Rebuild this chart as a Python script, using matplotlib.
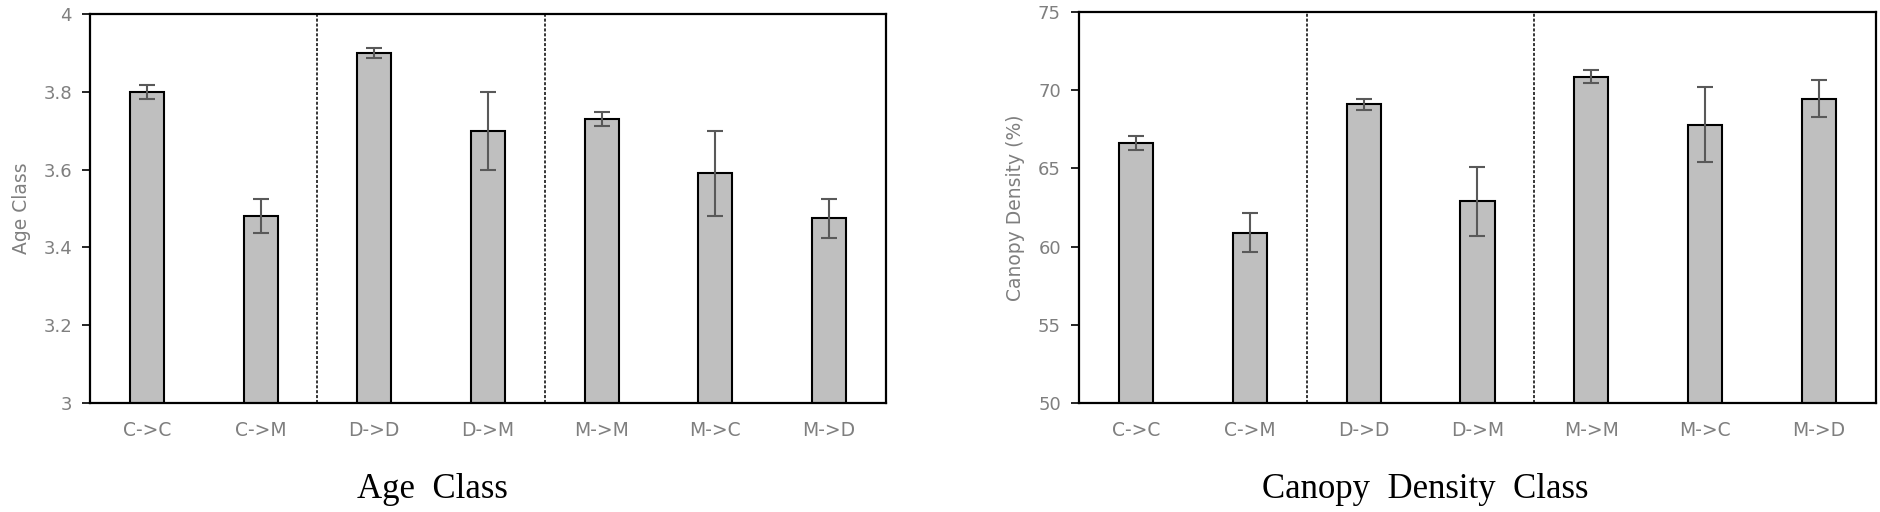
import matplotlib
matplotlib.use('Agg')
import matplotlib.pyplot as plt
import numpy as np

# 이동 유형 (범주)
categories = ['C->C', 'C->M', 'D->D', 'D->M', 'M->M', 'M->C', 'M->D']

# 영급 평균, 표준오차
age_mean = [3.80, 3.48, 3.90, 3.70, 3.73, 3.59, 3.475]
age_err = [0.018, 0.044, 0.013, 0.10, 0.017, 0.11, 0.05]

# 수관밀도 평균, 표준오차
canopy_mean = [66.6, 60.9, 69.1, 62.9, 70.85, 67.8, 69.45]
canopy_err = [0.44, 1.25, 0.34, 2.2, 0.41, 2.4, 1.18]

fig = plt.figure(figsize=(18.81, 5.12), dpi=100)

ax1 = fig.add_axes([90/1881, 1-403/512, 796/1881, 389/512])
ax2 = fig.add_axes([1079/1881, 1-403/512, 797/1881, 391/512])

def draw(ax, mean, err, ylim, yticks, ylabel):
    x = np.arange(len(categories))
    ax.bar(x, mean, width=0.3, color='#bfbfbf', edgecolor='black', linewidth=1.5, zorder=2)
    ax.errorbar(x, mean, yerr=err, fmt='none', ecolor='#595959', elinewidth=1.5,
                capsize=5.5, capthick=1.5, zorder=3)
    # 구분선 (점선)
    for xv in [1.5, 3.5]:
        ax.axvline(xv, color='black', linestyle=(0, (2, 1.2)), linewidth=1.1, zorder=1)
    ax.set_xlim(-0.5, len(categories) - 0.5)
    ax.set_ylim(*ylim)
    ax.set_yticks(yticks)
    ax.set_yticklabels([('%g' % v) for v in yticks])
    ax.set_xticks(x)
    ax.set_xticklabels(categories)
    ax.tick_params(axis='x', length=0, pad=13, labelsize=13.5, labelcolor='#7f7f7f')
    ax.tick_params(axis='y', length=6, width=1.2, direction='out', pad=7,
                   labelsize=13, labelcolor='#7f7f7f')
    for s in ax.spines.values():
        s.set_linewidth(1.6)
    ax.set_ylabel(ylabel, fontsize=13.5, color='#7f7f7f', labelpad=9)

draw(ax1, age_mean, age_err, (3, 4), [3, 3.2, 3.4, 3.6, 3.8, 4], 'Age Class')
draw(ax2, canopy_mean, canopy_err, (50, 75), [50, 55, 60, 65, 70, 75], 'Canopy Density (%)')

fig.text(432/1881, 1-489/512, 'Age  Class', family='Liberation Serif', fontsize=25,
         ha='center', va='center')
fig.text(1425/1881, 1-489/512, 'Canopy  Density  Class', family='Liberation Serif',
         fontsize=25, ha='center', va='center')

plt.savefig('out.png', dpi=100)
